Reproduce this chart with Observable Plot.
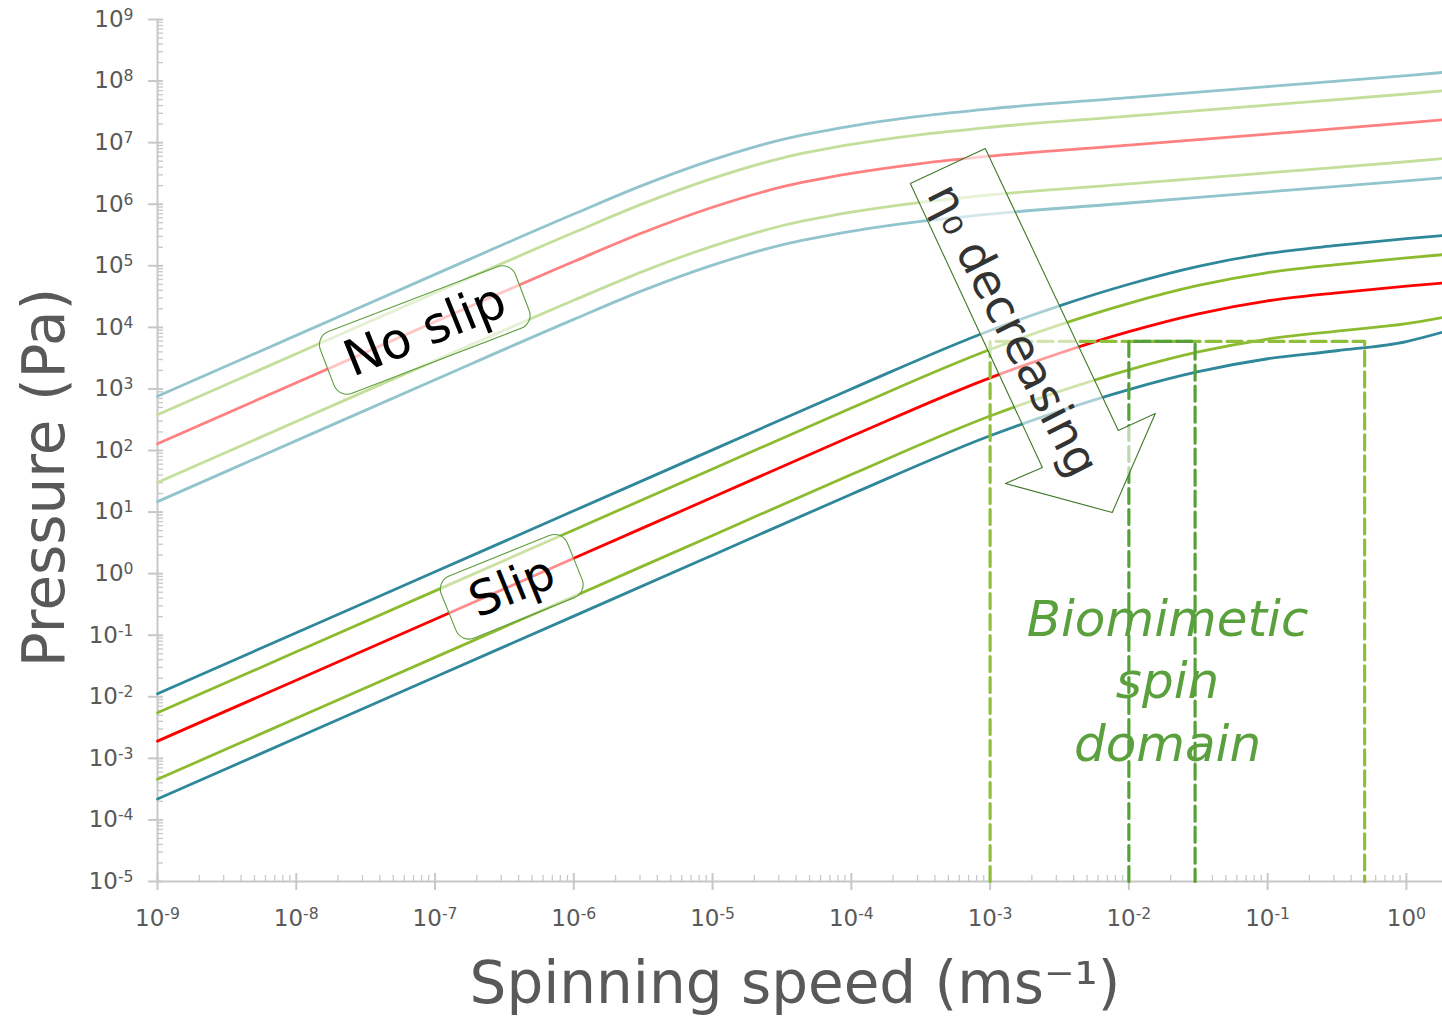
<!DOCTYPE html>
<html>
<head>
<meta charset="utf-8">
<script src="https://cdn.jsdelivr.net/npm/d3@7"></script>
<script src="https://cdn.jsdelivr.net/npm/@observablehq/plot@0.6"></script>
<style>
  html, body { margin: 0; padding: 0; background: #fff; }
  #chart svg { display: block; }
</style>
</head>
<body>
<div id="chart"></div>
<script>
// ---------- DATA ----------
// Spinning speed (m/s) sample points
const speedsNoSlip = [1e-9, 1e-8, 1e-7, 1e-6, 3.16e-6, 1e-5, 3.16e-5, 1e-4, 3.16e-4, 1e-3, 1e-2, 1e-1, 1, 1.82];
const speedsSlip   = [1e-9, 1e-8, 1e-7, 1e-6, 1e-5, 1e-4, 1e-3, 3.16e-3, 1e-2, 3.16e-2, 1e-1, 3.16e-1, 1, 1.82];

// log10 of pressure (Pa) - "No slip" family (faded colours)
const noSlipTeal1  = [2.88, 3.87, 4.86, 5.84, 6.31, 6.72, 7.05, 7.27, 7.43, 7.55, 7.73, 7.91, 8.09, 8.14];
const noSlipGreen1 = [2.58, 3.57, 4.56, 5.54, 6.01, 6.42, 6.75, 6.97, 7.13, 7.25, 7.43, 7.61, 7.79, 7.84];
const noSlipRed    = [2.11, 3.10, 4.09, 5.07, 5.54, 5.95, 6.28, 6.50, 6.66, 6.78, 6.96, 7.14, 7.32, 7.37];
const noSlipGreen2 = [1.48, 2.47, 3.46, 4.44, 4.91, 5.32, 5.65, 5.87, 6.03, 6.15, 6.33, 6.51, 6.69, 6.74];
const noSlipTeal2  = [1.17, 2.16, 3.15, 4.13, 4.60, 5.01, 5.34, 5.56, 5.72, 5.84, 6.02, 6.20, 6.38, 6.43];

// log10 of pressure (Pa) - "Slip" family
const slipTeal1  = [-1.95, -0.96, 0.03, 1.02, 2.01, 3.00, 3.95, 4.35, 4.70, 4.99, 5.20, 5.33, 5.44, 5.49];
const slipGreen1 = [-2.26, -1.27, -0.28, 0.71, 1.70, 2.69, 3.64, 4.04, 4.39, 4.68, 4.89, 5.02, 5.13, 5.18];
const slipRed    = [-2.72, -1.73, -0.74, 0.25, 1.24, 2.23, 3.18, 3.58, 3.93, 4.22, 4.43, 4.56, 4.67, 4.72];
const slipGreen2 = [-3.34, -2.35, -1.36, -0.37, 0.62, 1.61, 2.56, 2.96, 3.31, 3.60, 3.81, 3.94, 4.06, 4.16];
const slipTeal2  = [-3.66, -2.67, -1.68, -0.69, 0.30, 1.29, 2.24, 2.64, 2.99, 3.28, 3.49, 3.62, 3.77, 3.92];

// Biomimetic spin domain (speed bounds and pressure ceiling)
const domainOuter = [1e-3, 0.5];
const domainInner = [1e-2, 3e-2];
const domainTop = 5.9e3;
const pressureFloor = 1e-5;

// Axis ticks
const xMajor = [1e-9, 1e-8, 1e-7, 1e-6, 1e-5, 1e-4, 1e-3, 1e-2, 1e-1, 1];
const yMajor = [1e-5, 1e-4, 1e-3, 1e-2, 1e-1, 1, 1e1, 1e2, 1e3, 1e4, 1e5, 1e6, 1e7, 1e8, 1e9];
const minorMultipliers = [2, 3, 4, 5, 6, 7, 8, 9];

// Annotation anchors (data coordinates)
const noSlipLabel = {speed: 8.5e-8, pressure: 8.9e3, text: "No slip"};
const slipLabel = {speed: 3.6e-7, pressure: 0.6, text: "Slip"};
const etaLabel = {speed: 1.45e-3, pressure: 8.9e3, text: "η₀ decreasing"};
const domainLabel = {speed: 1.9e-2, pressure: 2.0e-2, text: "Biomimetic\nspin\ndomain"};
const arrowSpeeds = [2.66e-4, 9.23e-4, 8.39e-3, 1.55e-2, 7.59e-3, 1.29e-3, 2.38e-3];
const arrowPressures = [2.17e6, 8.04e6, 211, 399, 9.84, 29.1, 53.0];

// ---------- BUILD TABLES ----------
const palette = {
  nsTeal: "#92c4cd", nsGreen: "#c4de9c", nsRed: "#ff8080",
  sTeal: "#2f879a", sGreen: "#8cbb2f", sRed: "#ff0000"
};
const seriesDefs = [
  ["ns-teal1", speedsNoSlip, noSlipTeal1, palette.nsTeal],
  ["ns-green1", speedsNoSlip, noSlipGreen1, palette.nsGreen],
  ["ns-red", speedsNoSlip, noSlipRed, palette.nsRed],
  ["ns-green2", speedsNoSlip, noSlipGreen2, palette.nsGreen],
  ["ns-teal2", speedsNoSlip, noSlipTeal2, palette.nsTeal],
  ["s-teal1", speedsSlip, slipTeal1, palette.sTeal],
  ["s-green1", speedsSlip, slipGreen1, palette.sGreen],
  ["s-red", speedsSlip, slipRed, palette.sRed],
  ["s-green2", speedsSlip, slipGreen2, palette.sGreen],
  ["s-teal2", speedsSlip, slipTeal2, palette.sTeal]
];
const rows = [];
for (const [name, xs, ys, color] of seriesDefs) {
  xs.forEach((s, i) => rows.push({series: name, speed: s, pressure: Math.pow(10, ys[i]), color}));
}

const rect = ([a, b]) => [
  {speed: a, pressure: pressureFloor},
  {speed: a, pressure: domainTop},
  {speed: b, pressure: domainTop},
  {speed: b, pressure: pressureFloor}
];

const arrowPts = arrowSpeeds.map((s, i) => ({speed: s, pressure: arrowPressures[i]}));

const xDomain = [1e-9, 1.82];
const minorX = [];
for (const m of xMajor) for (const k of minorMultipliers) { const v = m * k; if (v < xDomain[1]) minorX.push(v); }
const minorY = [];
for (const m of yMajor.slice(0, -1)) for (const k of minorMultipliers) minorY.push(m * k);

// tick text "10|e" (split into base and superscript afterwards)
const fmt = d => "10|" + Math.round(Math.log10(d));

const W = 1442, H = 1018;
const mL = 157, mR = 0, mT = 19, mB = 137;
const frameH = H - mT - mB;
const frameW = W - mL - mR;
const axisGray = "#c8c8c8";
const textGray = "#595959";
const FONT = "'DejaVu Sans', sans-serif";

// rounded, rotated box drawn through the plot's scales
function roundedBox(c, w, h, angle, stroke) {
  return (index, scales) => {
    const X = scales.x(c.speed), Y = scales.y(c.pressure);
    const g = d3.create("svg:g").attr("transform", `translate(${X},${Y}) rotate(${angle})`);
    g.append("rect")
      .attr("x", -w / 2).attr("y", -h / 2)
      .attr("width", w).attr("height", h)
      .attr("rx", 14).attr("ry", 14)
      .attr("fill", "white").attr("fill-opacity", 0.55)
      .attr("stroke", stroke).attr("stroke-width", 1.1);
    return g.node();
  };
}

const chart = Plot.plot({
  width: W, height: H,
  marginLeft: mL, marginRight: mR, marginTop: mT, marginBottom: mB,
  x: {type: "log", domain: xDomain},
  y: {type: "log", domain: [1e-5, 1e9]},
  style: {fontFamily: FONT, background: "white", overflow: "visible"},
  marks: [
    // axis lines
    Plot.ruleY([1e-5], {stroke: axisGray, strokeWidth: 2}),
    Plot.ruleX([1e-9], {stroke: axisGray, strokeWidth: 2}),
    // minor ticks (inside)
    Plot.tickX(minorX, {x: d => d, stroke: axisGray, strokeWidth: 1.3, insetTop: frameH - 6}),
    Plot.tickY(minorY, {y: d => d, stroke: axisGray, strokeWidth: 1.3, insetRight: frameW - 6}),
    // major ticks (crossing)
    Plot.tickX(xMajor, {x: d => d, stroke: axisGray, strokeWidth: 2, insetTop: frameH - 8, insetBottom: -9}),
    Plot.tickY(yMajor, {y: d => d, stroke: axisGray, strokeWidth: 2, insetRight: frameW - 6, insetLeft: -9}),
    // tick labels
    Plot.axisX({ticks: xMajor, tickSize: 0, tickPadding: 28, tickFormat: fmt, fontSize: 23, fill: textGray, label: null}),
    Plot.axisY({ticks: yMajor, tickSize: 0, tickPadding: 24, tickFormat: fmt, fontSize: 23, fill: textGray, label: null}),
    // axis titles
    Plot.text(["Pressure (Pa)"], {frameAnchor: "left", textAnchor: "middle", lineAnchor: "middle", dx: -112, dy: 27, rotate: -90, fontSize: 58, fill: textGray}),
    Plot.text(["Spinning speed (ms⁻¹)"], {frameAnchor: "bottom", dx: -5, dy: 121, fontSize: 58, fill: textGray}),
    // curves
    Plot.line(rows, {x: "speed", y: "pressure", z: "series", stroke: "color", strokeWidth: 2.8, curve: "monotone-x"}),
    // biomimetic spin domain (dashed)
    Plot.line(rect(domainOuter), {x: "speed", y: "pressure", stroke: "#8fbf3a", strokeWidth: 3.2, strokeDasharray: "15,6"}),
    Plot.line(rect(domainInner), {x: "speed", y: "pressure", stroke: "#56a03a", strokeWidth: 3.2, strokeDasharray: "15,6"}),
    Plot.text([domainLabel], {x: "speed", y: "pressure", text: "text", fontSize: 50, fontStyle: "italic", fill: "#5aa03c", lineHeight: 1.25}),
    // "η0 decreasing" arrow
    Plot.line(arrowPts, {x: "speed", y: "pressure", curve: "linear-closed", fill: "white", fillOpacity: 0.6, stroke: "#3f7a28", strokeWidth: 1.1}),
    Plot.text([etaLabel], {x: "speed", y: "pressure", text: "text", rotate: 63, fontSize: 47, fill: "#333"}),
    // "No slip" / "Slip" boxes
    roundedBox(noSlipLabel, 209, 66, -21, "#5e9e3e"),
    Plot.text([noSlipLabel], {x: "speed", y: "pressure", text: "text", rotate: -22, fontSize: 50, fill: "#000"}),
    roundedBox(slipLabel, 136, 67, -22, "#5e9e3e"),
    Plot.text([slipLabel], {x: "speed", y: "pressure", text: "text", rotate: -22, fontSize: 48, fill: "#000"})
  ]
});

// turn "10|e" tick texts into 10 with a raised exponent
d3.select(chart).selectAll("text").each(function () {
  const t = this.textContent;
  if (!/^10\|-?\d+$/.test(t)) return;
  const exp = t.split("|")[1];
  const sel = d3.select(this);
  sel.text(null);
  sel.append("tspan").text("10");
  sel.append("tspan").attr("dy", "-0.45em").attr("font-size", "0.68em").text(exp);
});
document.getElementById("chart").appendChild(chart);
</script>
</body>
</html>
